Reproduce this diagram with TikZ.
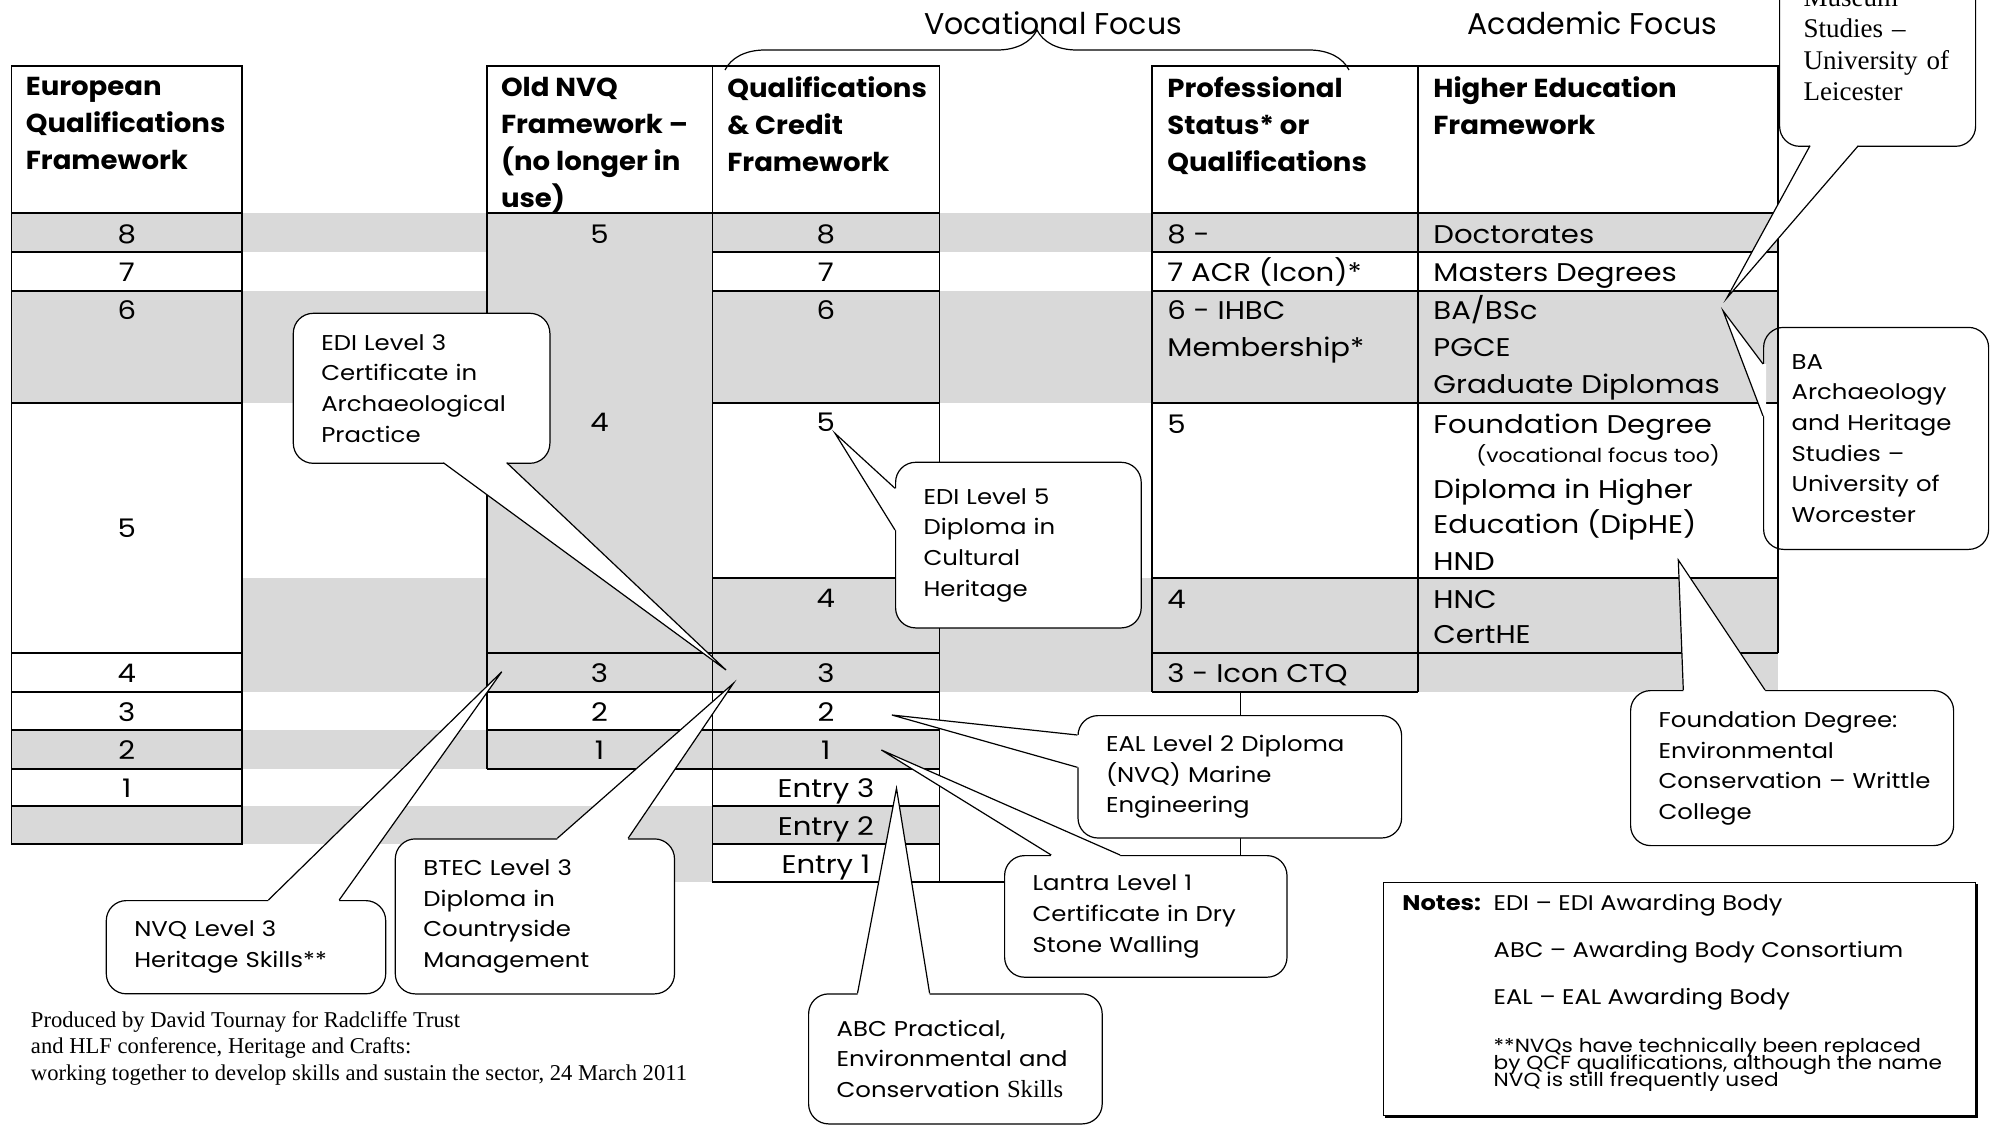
\documentclass[tikz,border=0pt]{standalone}
\usepackage{fontspec}
\setmainfont{Poppins}[FakeStretch=1.14]
\newfontfamily\headfont{Poppins}[FakeStretch=1.06]
\newfontfamily\titlefont{Poppins}
\newfontfamily\timesfont{Liberation Serif}
\usetikzlibrary{calc,decorations.pathreplacing,shadows}
\definecolor{cellgrey}{RGB}{217,217,217}
\hyphenpenalty=10000
\exhyphenpenalty=10000

% pointer of a callout: base, base, tip, shift into the box
\newcommand{\callptr}[4]{%
  \fill[white] ($#1+#4$) -- #1 -- #3 -- #2 -- ($#2+#4$) -- cycle;
  \draw[ptrline] #1 -- #3 -- #2;}

\begin{document}
\begin{tikzpicture}[x=0.5pt,y=-0.5pt,
  band/.style={fill=cellgrey},
  rule/.style={line width=0.9pt},
  head/.style={anchor=north west,align=left,inner sep=0pt,font=\headfont\fontsize{13}{18.5}\selectfont\bfseries},
  cell/.style={anchor=base,inner sep=0pt,font=\fontsize{12.8}{18.5}\selectfont},
  lcell/.style={cell,anchor=base west},
  callbox/.style={draw,fill=white,line width=0.6pt,rounded corners=10pt,anchor=north west,align=left,inner xsep=14pt,inner ysep=0pt,font=\fontsize{10.7}{15.3}\selectfont},
  ptrline/.style={line width=0.6pt},
  note/.style={anchor=base west,inner sep=0pt,font=\fontsize{10.6}{12}\selectfont},
  smallnote/.style={anchor=base west,inner sep=0pt,font=\fontsize{9.5}{9}\selectfont}]

  \useasboundingbox (0,0) rectangle (1998,1125);
  \clip (0,0) rectangle (1998,1125);

  % grey rows
  \fill[band] (11.5,213.3) rectangle (1778,252.3);
  \fill[band] (11.5,290.7) rectangle (1778,403.3);
  \fill[band] (242,578.3) rectangle (1778,691.7);
  \fill[band] (11.5,730) rectangle (939.4,769);
  \fill[band] (11.5,806) rectangle (939.4,844.3);
  \fill[band] (486.6,213.3) rectangle (712.4,691.7);
  \fill[band] (486.6,844.3) rectangle (712.4,881.7);

  % European framework
  \draw[rule] (11.5,65.7) rectangle (242,844.3);
  \foreach \y in {213.3,252.3,290.7,403.3,653.3,691.7,730,769,806}
    \draw[rule] (11.5,\y) -- (242,\y);

  % old NVQ and QCF
  \draw[rule] (486.6,769) -- (486.6,65.7) -- (939.4,65.7) -- (939.4,881.7);
  \draw[rule] (712.4,65.7) -- (712.4,881.7);
  \draw[rule] (712.4,881.7) -- (1004,881.7);
  \draw[rule] (486.6,213.3) -- (939.4,213.3);
  \foreach \y in {252.3,290.7,403.3,578.3,806,844.3}
    \draw[rule] (712.4,\y) -- (939.4,\y);
  \foreach \y in {653.3,691.7,730,769}
    \draw[rule] (486.6,\y) -- (939.4,\y);

  % professional and higher education
  \draw[rule] (1151.8,691.7) -- (1151.8,65.7) -- (1778,65.7) -- (1778,653.3);
  \draw[rule] (1417.7,65.7) -- (1417.7,691.7);
  \foreach \y in {213.3,252.3,290.7,403.3,578.3,653.3}
    \draw[rule] (1151.8,\y) -- (1778,\y);
  \draw[rule] (1151.8,691.7) -- (1417.7,691.7);
  \draw[line width=0.4pt] (1240,691.7) -- (1240,855);

  % headings
  \node[head] (eqfhead) at (25.5,77) {European\\Qualifications\\Framework};
  \node[head] (nvqhead) at (500.6,77) {Old NVQ\\Framework –\\(no longer in\\use)};
  \node[head] (qcfhead) at (727,76) {Qualifications\\\& Credit\\Framework};
  \node[head] (pshead) at (1167,76) {Professional\\Status* or\\Qualifications};
  \node[head] (hehead) at (1433,76) {Higher Education\\Framework};

  \foreach \n/\y in {8/243.2,7/281.4,6/319.7,5/537.5,4/682.7,3/721,2/759.2,1/797.4}
    \node[cell] (eqf\n) at (126.8,\y) {\n};
  \foreach \n/\y in {5/243.2,4/431.7,3/682.7,2/721,1/759.2}
    \node[cell] (nvq\n) at (599.5,\y) {\n};
  \foreach \n/\y in {8/243.2,7/281.4,6/319.7,5/431.7,4/607.7,3/682.7,2/721,1/759.2}
    \node[cell] (qcf\n) at (825.9,\y) {\n};
  \node[cell] (qcfe3) at (825.9,797.4) {Entry 3};
  \node[cell] (qcfe2) at (825.9,835.7) {Entry 2};
  \node[cell] (qcfe1) at (825.9,873.7) {Entry 1};

  \node[lcell] (ps8) at (1167,243.2) {8 -};
  \node[lcell] (ps7) at (1167,281.4) {7 ACR (Icon)*};
  \node[lcell] (ps6) at (1167,319.7) {6 - IHBC};
  \node[lcell] (ps6b) at (1167,356.6) {Membership*};
  \node[lcell] (ps5) at (1167,433.7) {5};
  \node[lcell] (ps4) at (1167,608.7) {4};
  \node[lcell] (ps3) at (1167,682) {3 - Icon CTQ};

  \node[lcell] (he8) at (1433,243.2) {Doctorates};
  \node[lcell] (he7) at (1433,281.4) {Masters Degrees};
  \node[lcell] (he6a) at (1433,319.7) {BA/BSc};
  \node[lcell] (he6b) at (1433,356.6) {PGCE};
  \node[lcell] (he6c) at (1433,393.5) {Graduate Diplomas};
  \node[lcell] (he5a) at (1433,433.7) {Foundation Degree};
  \node[lcell,font=\fontsize{9.6}{12}\selectfont] (he5b) at (1476,462) {(vocational focus too)};
  \node[lcell] (he5c) at (1433,498.7) {Diploma in Higher};
  \node[lcell] (he5d) at (1433,533.7) {Education (DipHE)};
  \node[lcell] (he5e) at (1433,570.4) {HND};
  \node[lcell] (he4a) at (1433,608.7) {HNC};
  \node[lcell] (he4b) at (1433,643.7) {CertHE};

  % callouts
  \coordinate (t-edi3) at (726,670);
  \coordinate (t-edi5) at (835,433.3);
  \coordinate (t-eal) at (891.9,715);
  \coordinate (t-lantra) at (881.4,750);
  \coordinate (t-abc) at (896.5,788.3);
  \coordinate (t-nvq3) at (501.8,671.7);
  \coordinate (t-btec) at (733.4,683.3);
  \coordinate (t-fdeg) at (1678.3,560);
  \coordinate (t-baarch) at (1723,310.7);
  \coordinate (t-museum) at (1726.7,298.2);

  \node[callbox,text width=100.3pt,minimum height=75pt] (edi3) at (292.7,312.7)
    {EDI Level 3\\Certificate in\\Archaeological\\Practice};
  \callptr{(443.3,462.7)}{(506.7,462.7)}{(t-edi3)}{(0,-3)}

  \node[callbox,text width=94.8pt,minimum height=82.8pt] (edi5) at (895,461.7)
    {EDI Level 5\\Diploma in\\Cultural\\Heritage};
  \callptr{(895,488.3)}{(895,530)}{(t-edi5)}{(3,0)}

  \node[callbox,text width=133.8pt,minimum height=61.2pt] (eal) at (1077.4,715)
    {EAL~Level~2~Diploma\\(NVQ) Marine\\Engineering};
  \callptr{(1077.4,735)}{(1077.4,767.3)}{(t-eal)}{(3,0)}

  \node[callbox,text width=113.2pt,minimum height=60.8pt] (lantra) at (1004,855)
    {Lantra Level 1\\Certificate~in~Dry\\Stone Walling};
  \callptr{(1051.2,855)}{(1120.1,855)}{(t-lantra)}{(0,3)}

  \node[callbox,text width=118.8pt,minimum height=65pt] (abc) at (808,993.3)
    {ABC Practical,\\Environmental~and\\Conservation~{\timesfont\fontsize{12.3}{15.3}\selectfont Skills}};
  \callptr{(857.5,993.3)}{(929.6,993.3)}{(t-abc)}{(0,3)}

  \node[callbox,text width=111.7pt,minimum height=46.6pt] (nvq3) at (105.7,900)
    {NVQ Level 3\\Heritage~Skills**};
  \callptr{(268.4,900)}{(339.2,900)}{(t-nvq3)}{(0,3)}

  \node[callbox,text width=111.6pt,minimum height=77.5pt] (btec) at (394.7,838.3)
    {BTEC Level 3\\Diploma in\\Countryside\\Management};
  \callptr{(557.3,838.3)}{(628.1,838.3)}{(t-btec)}{(0,3)}

  \node[callbox,text width=133.5pt,minimum height=77.5pt] (fdeg) at (1630,690)
    {Foundation~Degree:\\Environmental\\Conservation~–~Writtle\\College};
  \callptr{(1683.3,690)}{(1765,690)}{(t-fdeg)}{(0,3)}

  \node[callbox,fill=none,text width=84.5pt,minimum height=111pt] (baarch) at (1763,326.8)
    {BA\\Archaeology\\and~Heritage\\Studies~–\\University~of\\Worcester};
  \callptr{(1763,364)}{(1763,416)}{(t-baarch)}{(3,0)}

  \node[callbox,fill=none,inner xsep=12pt,text width=74pt,minimum height=101.7pt,
    font=\timesfont\fontsize{13.5}{15.75}\selectfont] (museum) at (1779,-57.7)
    {Museum\\Studies~–\\University~of\\Leicester};
  \callptr{(1810,145.7)}{(1858.3,145.7)}{(t-museum)}{(0,-3)}

  % notes
  \node[draw,fill=white,line width=0.6pt,anchor=north west,inner sep=0pt,
    minimum width=296.3pt,minimum height=116.7pt,
    drop shadow={shadow xshift=1pt,shadow yshift=-1pt,opacity=1,fill=black}] (notes) at (1382.5,881.7) {};
  \node[note,font=\fontsize{10.6}{12}\selectfont\bfseries] (notestitle) at (1402,910.4) {Notes:};
  \node[note] (note1) at (1493.3,910.4) {EDI – EDI Awarding Body};
  \node[note] (note2) at (1493.3,957.4) {ABC – Awarding Body Consortium};
  \node[note] (note3) at (1493.3,1004) {EAL – EAL Awarding Body};
  \node[smallnote] (note4) at (1493.3,1052.3) {**NVQs have technically been replaced};
  \node[smallnote] (note5) at (1493.3,1069) {by QCF qualifications, although the name};
  \node[smallnote] (note6) at (1493.3,1086) {NVQ is still frequently used};

  % credit line
  \node[anchor=north west,align=left,inner sep=0pt,font=\timesfont\fontsize{11.3}{13.2}\selectfont] (credit) at (30.6,1011)
    {Produced by David Tournay for Radcliffe Trust\\and HLF conference, Heritage and Crafts:\\working together to develop skills and sustain the sector, 24 March 2011};

  % focus labels
  \draw[decorate,decoration={brace,amplitude=20pt},line width=0.6pt] (725,70) -- (1349,70);
  \node[anchor=base,inner sep=0pt,font=\titlefont\fontsize{15}{18}\selectfont] (vocfocus) at (1053,34.5) {Vocational Focus};
  \node[anchor=base,inner sep=0pt,font=\titlefont\fontsize{15}{18}\selectfont] (acafocus) at (1592.5,34.5) {Academic Focus};
\end{tikzpicture}
\end{document}
